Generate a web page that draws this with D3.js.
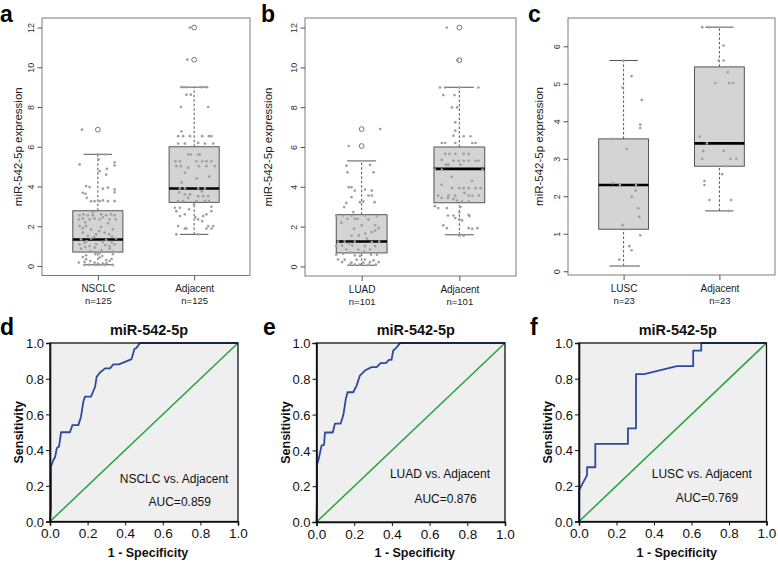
<!DOCTYPE html>
<html><head><meta charset="utf-8">
<script src="https://cdn.jsdelivr.net/npm/d3@7"></script>
<style>
body{margin:0;background:#fff}
svg{display:block}
text{font-family:"Liberation Sans",Arial,Helvetica,sans-serif}
</style>
</head><body>
<svg id="chart" width="778" height="565"></svg>
<script>
// ---------------- DATA ----------------
const yLabel = "miR-542-5p expression";
const yTicksAB = [0, 2, 4, 6, 8, 10, 12];
const yTicksC = [0, 1, 2, 3, 4, 5, 6];

// panel a
const catsA = ["NSCLC", "Adjacent"];
const nA = [125, 125];
const statsA = [[0.06, 0.70, 1.33, 2.78, 5.62], [1.59, 3.20, 3.90, 6.00, 9.00]];
const outA = [[6.86], [10.38, 12.0]];
const ptsA1 = [[6.86,-0.63],[5.61,0],[5.61,0.31],[5.11,-0.73],[5.22,0.67],[5.06,0.67],[5.36,0.03],[4.77,0.07],[4.89,0.36],[4.60,0.33],
[4.02,-0.47],[3.97,-0.33],[3.68,-0.6],[3.63,-0.49],[3.43,-0.44],[3.89,0.2],[3.94,0.4],[3.85,0.67],[3.71,0.67],
[3.26,-0.27],[3.26,-0.13],[3.26,0.07],[3.30,0.2],[3.26,0.4],[3.26,0.67],
[2.55,-0.73],[2.60,-0.57],[2.55,-0.4],[2.55,-0.2],[2.60,0.13],[2.55,0.33],[2.60,0.53],[2.55,0.67],
[2.34,-0.76],[2.38,-0.6],[2.34,-0.33],[2.38,-0.13],[2.34,0.07],[2.34,0.47],[2.34,0.71],
[2.01,-0.73],[2.01,-0.47],[1.84,-0.27],[1.96,0.13],[1.84,0.6],
[1.68,-0.6],[1.51,-0.4],[1.59,-0.07],[1.68,0.27],[1.48,0.57],
[1.34,-0.67],[1.38,-0.27],[1.31,0.33],[1.38,0.73],
[1.09,-0.73],[1.17,-0.53],[1.00,-0.33],[1.09,-0.07],[1.21,0.2],[1.00,0.47],[1.09,0.67],
[0.87,-0.67],[0.92,-0.13],[0.87,0.47],
[0.64,0.07],[0.50,0.17],[0.59,0.6],[0.54,-0.47],
[0.34,-0.47],[0.42,0.07],[0.30,0.33],
[0.17,-0.76],[0.20,-0.53],[0.17,-0.13],[0.12,0.2],[0.25,0.47],
[0.05,-0.53],[0.05,-0.33],[0.05,-0.07],[0.05,0.07],[0.05,0.27],[0.05,0.6],
[2.70,-0.2],[2.45,0.2],[2.20,-0.5],[2.15,0.4],[1.90,-0.6],[1.75,0.05],[1.60,0.45],[1.45,-0.15],[1.25,-0.45],[1.20,0.55],
[1.05,0.3],[0.95,-0.5],[0.80,0.15],[0.75,-0.3],[0.72,0.6],[0.60,-0.1],[0.45,-0.6],[0.35,0.55],[0.25,-0.3],[0.15,0.35]];
const ptsA2 = [[12.0,-0.17],[10.38,-0.27],
[9.0,-0.47],[9.0,-0.31],[9.0,0.29],[9.0,0.49],[8.62,-0.31],[8.62,-0.13],[8.0,-0.53],[8.0,0.56],
[6.78,-0.51],[6.53,-0.64],[6.53,-0.44],[6.53,-0.17],[6.53,0.32],[6.53,0.59],[6.53,0.69],
[6.16,-0.64],[6.16,-0.37],[6.19,0.16],[6.16,0.43],[6.16,0.76],
[5.61,-0.24],[5.61,-0.13],[5.61,0.16],[5.61,0.23],
[5.27,-0.75],[5.27,-0.57],[5.27,0.09],[5.27,0.32],[5.27,0.49],[5.27,0.69],
[5.02,-0.71],[5.02,-0.53],[4.94,-0.24],[5.02,0.19],[5.02,0.49],[5.02,0.83],[4.69,-0.37],
[3.90,-0.57],[3.90,-0.37],[3.90,0.16],[3.90,0.43],
[3.60,-0.37],[3.60,-0.17],[3.51,0.16],[3.51,0.36],[3.51,0.56],[3.43,-0.24],
[3.26,-0.64],[3.26,-0.44],[3.26,0.09],[3.26,0.43],[3.26,0.59],
[2.93,-0.77],[2.93,-0.57],[2.98,0.69],[2.76,-0.71],[2.76,0.69],
[2.51,-0.57],[2.60,-0.37],[2.51,0.36],[2.60,0.49],[2.34,0.16],[2.26,0.32],
[2.01,-0.64],[2.01,0.56],[2.01,0.76],[1.88,-0.37],[1.88,-0.31],[1.88,0.49],[1.88,0.69],
[1.59,-0.71],[1.59,0.16],
[4.40,0.1],[4.20,-0.5],[4.50,0.6],[3.75,0.3],[3.70,-0.6],[3.10,0.0],[2.85,-0.2],[2.45,0.05]];

// panel b
const catsB = ["LUAD", "Adjacent"];
const nB = [101, 101];
const statsB = [[0.06, 0.68, 1.25, 2.60, 5.30], [1.59, 3.20, 4.90, 6.00, 9.00]];
const outB = [[6.05, 6.90], [10.36, 12.0]];
const ptsB1 = [[6.90,0.73],[6.05,-0.51],
[5.06,-0.6],[4.73,-0.56],[5.10,0.33],[4.73,0.47],
[3.98,-0.51],[3.98,-0.4],[3.81,-0.27],[3.86,0.13],[3.81,0.4],[3.56,0.27],[3.56,0.4],
[2.98,-0.69],[3.19,-0.6],[3.48,-0.4],[3.23,-0.07],[3.26,0.07],[3.23,0.51],[2.73,-0.33],
[2.56,-1.0],[2.56,-0.73],[2.56,-0.4],[2.56,0.13],[2.53,0.6],
[2.39,-0.56],[2.39,-0.27],[2.39,-0.16],[2.36,0.27],
[2.06,0.0],[2.06,0.53],[1.92,0.67],[1.72,0.4],[1.80,0.53],[1.55,-0.4],[1.55,-0.11],
[1.25,-0.93],[1.25,-0.67],[1.25,-0.27],[1.22,0.4],[1.25,0.69],
[1.02,-1.0],[1.05,-0.77],[1.05,-0.37],[1.02,0.13],[1.02,0.53],
[0.85,-0.6],[0.85,-0.13],[0.85,0.33],
[0.59,-1.0],[0.64,-0.73],[0.55,-0.27],[0.52,-0.07],[0.59,0.37],[0.59,0.6],
[0.35,-0.93],[0.34,-0.67],[0.34,-0.2],[0.35,0.13],[0.30,0.47],
[0.22,-0.77],[0.19,-0.4],[0.19,0.07],[0.22,0.33],[0.22,0.67],
[0.09,-0.47],[0.09,-0.27],[0.09,-0.07],[0.09,0.27],[0.09,0.56],
[2.20,-0.8],[1.90,-0.3],[1.65,0.15],[1.40,0.2],[1.15,-0.5],[0.75,0.1],[0.70,-0.45]];
const ptsB2 = [[12.0,-0.49],[10.36,-0.08],
[8.99,-0.76],[8.99,-0.56],[8.99,0.0],[8.99,0.75],[8.61,-0.63],[8.61,-0.19],[7.99,-0.29],[7.99,-0.09],
[7.24,-0.16],[6.82,-0.16],[6.57,-0.23],[6.54,0.17],[6.54,0.44],
[6.20,-0.69],[6.20,-0.56],[6.20,-0.16],[6.20,0.51],[6.20,0.64],
[5.65,-0.56],[5.65,-0.39],[5.65,-0.16],[5.65,0.17],[5.65,0.37],
[5.35,-0.69],[5.31,-0.23],[5.31,-0.03],[5.31,0.17],[5.31,0.37],[5.31,0.64],[5.31,0.75],
[5.11,-0.53],[5.11,-0.43],[5.11,0.04],[4.86,-0.96],[4.86,-0.69],[4.86,0.91],
[3.93,-0.29],[3.93,0.0],[3.93,0.17],[3.93,0.37],[3.93,0.64],[3.93,0.84],
[3.56,-0.83],[3.56,-0.43],[3.56,-0.16],[3.56,0.37],[3.56,0.51],[3.56,0.77],
[3.44,-0.69],[3.44,-0.45],[3.39,-0.23],[3.31,-0.09],[3.26,0.11],[3.26,0.37],
[3.03,-0.96],[2.93,-0.83],[2.93,-0.49],[2.98,0.04],[2.73,0.0],
[2.56,-0.45],[2.56,-0.23],[2.59,0.37],[2.53,0.4],[2.43,-0.16],[2.36,0.0],[2.31,0.11],
[2.06,-0.63],[1.92,-0.49],[1.92,0.37],[1.89,0.51],[1.92,0.71],[1.55,0.0],[1.55,0.17],
[4.50,-0.3],[4.30,0.5],[4.10,-0.7],[3.70,0.2]];

// panel c
const catsC = ["LUSC", "Adjacent"];
const nC = [23, 23];
const statsC = [[0.14, 1.12, 2.30, 3.53, 5.62], [1.61, 2.80, 3.41, 5.45, 6.51]];
const outC = [[], []];
const ptsC1 = [[5.62,0.0],[5.20,0.32],[4.90,-0.04],[4.57,0.73],[3.91,0.67],[3.82,0.67],[3.26,0.12],[2.35,-0.44],[2.30,-0.15],
[2.15,0.49],[1.99,0.33],[1.68,0.59],[1.45,0.63],[1.23,-0.04],[0.96,0.67],[0.67,0.23],[0.56,0.32],[0.31,-0.17],
[0.14,0.0],[0.14,0.6],[3.53,-0.5],[1.12,0.3],[2.30,0.5]];
const ptsC2 = [[6.51,-0.69],[6.51,-0.43],[6.02,0.17],[5.62,-0.03],[5.62,0.17],[5.31,0.33],[5.02,-0.16],[5.02,0.4],[5.02,0.55],
[3.59,-0.79],[3.21,-0.65],[3.21,0.17],[3.00,-0.69],[3.00,0.44],[3.00,0.68],[2.59,0.11],[2.41,-0.6],[2.30,-0.6],
[1.90,-0.4],[1.90,0.47],[1.61,0.37],[3.41,-0.5],[2.80,0.3]];

// ROC panels
const rocTitle = "miR-542-5p";
const rocXLabel = "1 - Specificity";
const rocYLabel = "Sensitivity";
const rocTicks = [0, 0.2, 0.4, 0.6, 0.8, 1.0];
const rocComparisons = ["NSCLC vs. Adjacent", "LUAD vs. Adjacent", "LUSC vs. Adjacent"];
const aucValues = [0.859, 0.876, 0.769];
const rocD = [[0,0],[0.005,0.07],[0.005,0.307],[0.018,0.345],[0.027,0.36],[0.036,0.41],[0.048,0.42],[0.059,0.50],[0.106,0.50],
[0.119,0.54],[0.151,0.54],[0.165,0.587],[0.177,0.67],[0.186,0.70],[0.218,0.70],[0.24,0.755],[0.248,0.81],[0.266,0.835],
[0.293,0.858],[0.319,0.858],[0.337,0.88],[0.367,0.88],[0.434,0.91],[0.449,0.966],[0.461,0.974],[0.479,1.0],[1,1]];
const rocE = [[0,0],[0.002,0.085],[0.002,0.318],[0.01,0.345],[0.027,0.428],[0.04,0.43],[0.045,0.50],[0.086,0.50],[0.098,0.55],
[0.128,0.55],[0.142,0.596],[0.156,0.69],[0.165,0.725],[0.195,0.725],[0.213,0.762],[0.23,0.818],[0.257,0.846],[0.292,0.865],
[0.319,0.865],[0.34,0.888],[0.368,0.888],[0.384,0.906],[0.398,0.906],[0.407,0.958],[0.42,0.97],[0.439,0.994],[0.443,1.0],[1,1]];
const rocF = [[0,0],[0,0.174],[0.043,0.26],[0.043,0.304],[0.087,0.304],[0.087,0.435],[0.261,0.435],[0.261,0.522],[0.304,0.522],
[0.304,0.826],[0.348,0.826],[0.522,0.870],[0.609,0.870],[0.609,0.957],[0.652,0.957],[0.652,1.0],[1,1]];

// ---------------- DRAWING ----------------
const svg = d3.select("#chart");
svg.append("rect").attr("width", 778).attr("height", 565).attr("fill", "#fff");
const FONT = "'Liberation Sans',Arial,sans-serif";

function boxPanel(o) {
  const g = svg.append("g");
  const x = d3.scalePoint().domain(o.cats).range([o.l, o.r]).padding(0.58);
  const y = d3.scaleLinear().domain(o.yd).range([o.b, o.t]);
  const hw = x.step() * 0.26;

  g.append("rect").attr("x", o.l).attr("y", o.t).attr("width", o.r - o.l).attr("height", o.b - o.t)
    .attr("fill", "none").attr("stroke", "#7c7c7c").attr("stroke-width", 1);

  o.cats.forEach((c, i) => {
    const cx = x(c), s = o.stats[i];
    const wl = (a, b) => g.append("line").attr("x1", cx).attr("x2", cx).attr("y1", y(a)).attr("y2", y(b))
      .attr("stroke", "#555").attr("stroke-width", 1).attr("stroke-dasharray", "2.5,2");
    wl(s[0], s[1]); wl(s[3], s[4]);
    [s[0], s[4]].forEach(v => g.append("line").attr("x1", cx - hw * 0.57).attr("x2", cx + hw * 0.57)
      .attr("y1", y(v)).attr("y2", y(v)).attr("stroke", "#555").attr("stroke-width", 1));
    g.append("rect").attr("x", cx - hw).attr("y", y(s[3])).attr("width", 2 * hw).attr("height", y(s[1]) - y(s[3]))
      .attr("fill", "#d4d4d4").attr("stroke", "#555").attr("stroke-width", 1);
    g.append("line").attr("x1", cx - hw).attr("x2", cx + hw).attr("y1", y(s[2])).attr("y2", y(s[2]))
      .attr("stroke", "#000").attr("stroke-width", 2.6);
    g.selectAll(null).data(o.out[i]).enter().append("circle")
      .attr("cx", cx).attr("cy", d => y(d)).attr("r", 2.4)
      .attr("fill", "none").attr("stroke", "#666").attr("stroke-width", 0.9);
    g.selectAll(null).data(o.pts[i]).enter().append("circle")
      .attr("cx", d => cx + d[1] * hw).attr("cy", d => y(d[0])).attr("r", 1.35)
      .attr("fill", "#a0a0a0");
  });

  const ya = g.append("g").attr("transform", `translate(${o.l},0)`)
    .call(d3.axisLeft(y).tickValues(o.ticks).tickSize(4.5).tickFormat(d3.format("d")));
  ya.select(".domain").remove();
  ya.selectAll(".tick line").attr("stroke", "#555");
  ya.selectAll(".tick text").attr("transform", "rotate(-90)").attr("x", 0).attr("y", -8.5).attr("dy", 0)
    .attr("text-anchor", "middle").attr("font-size", 9).attr("fill", "#333").style("font-family", FONT);

  const xa = g.append("g").attr("transform", `translate(0,${o.b})`)
    .call(d3.axisBottom(x).tickSize(5));
  xa.select(".domain").remove();
  xa.selectAll(".tick line").attr("stroke", "#555");
  xa.selectAll(".tick text").remove();
  xa.selectAll(".tick").append("text").attr("y", 16.5).attr("text-anchor", "middle")
    .attr("font-size", 10).attr("fill", "#222").style("font-family", FONT)
    .text(d => d);
  xa.selectAll(".tick").append("text").attr("y", 28.5).attr("text-anchor", "middle")
    .attr("font-size", 9.5).attr("fill", "#222").style("font-family", FONT)
    .text((d, i) => "n=" + o.n[i]);

  g.append("text").attr("transform", `translate(${o.yl},${(o.t + o.b) / 2}) rotate(-90)`)
    .attr("text-anchor", "middle").attr("font-size", 11.5).attr("fill", "#222").text(yLabel);
  g.append("text").attr("x", o.lx).attr("y", o.ly).attr("font-size", 23).attr("font-weight", "bold")
    .attr("fill", "#000").text(o.letter);
}

boxPanel({letter: "a", lx: 0, ly: 21.5, l: 42, r: 250, t: 18, b: 275.5, yl: 21.5, yd: [-0.48, 12.48],
  ticks: yTicksAB, cats: catsA, n: nA, stats: statsA, out: outA, pts: [ptsA1, ptsA2]});
boxPanel({letter: "b", lx: 261, ly: 21.5, l: 305, r: 516, t: 18, b: 276, yl: 272, yd: [-0.48, 12.48],
  ticks: yTicksAB, cats: catsB, n: nB, stats: statsB, out: outB, pts: [ptsB1, ptsB2]});
boxPanel({letter: "c", lx: 528, ly: 21.5, l: 568, r: 775, t: 18, b: 275, yl: 543, yd: [-0.1, 6.754],
  ticks: yTicksC, cats: catsC, n: nC, stats: statsC, out: outC, pts: [ptsC1, ptsC2]});

function rocPanel(o) {
  const g = svg.append("g");
  const x = d3.scaleLinear().domain([0, 1]).range([o.l, o.r]);
  const y = d3.scaleLinear().domain([0, 1]).range([o.b, o.t]);
  g.append("rect").attr("x", o.l).attr("y", o.t).attr("width", o.r - o.l).attr("height", o.b - o.t)
    .attr("fill", "#efefef");
  g.append("line").attr("x1", x(0)).attr("y1", y(0)).attr("x2", x(1)).attr("y2", y(1))
    .attr("stroke", "#21a53c").attr("stroke-width", 1.5);
  g.append("path").datum(o.data).attr("fill", "none").attr("stroke", "#2d4aa0").attr("stroke-width", 1.8)
    .attr("stroke-linejoin", "round")
    .attr("d", d3.line().x(d => x(d[0])).y(d => y(d[1])));
  g.append("rect").attr("x", o.l).attr("y", o.t).attr("width", o.r - o.l).attr("height", o.b - o.t)
    .attr("fill", "none").attr("stroke", "#111").attr("stroke-width", 1.3);

  const fmt = d3.format(".1f");
  const ya = g.append("g").attr("transform", `translate(${o.l},0)`)
    .call(d3.axisLeft(y).tickValues(rocTicks).tickSize(4).tickPadding(2).tickFormat(fmt));
  ya.select(".domain").attr("stroke", "#111").attr("stroke-width", 1.6);
  ya.selectAll(".tick line").attr("stroke", "#111");
  ya.selectAll(".tick text").attr("font-size", 13).attr("fill", "#111").attr("dy", "0.36em")
    .style("font-family", FONT);
  const xa = g.append("g").attr("transform", `translate(0,${o.b})`)
    .call(d3.axisBottom(x).tickValues(rocTicks).tickSize(4).tickPadding(3).tickFormat(fmt));
  xa.select(".domain").attr("stroke", "#111").attr("stroke-width", 1.6);
  xa.selectAll(".tick line").attr("stroke", "#111");
  xa.selectAll(".tick text").attr("font-size", 13.5).attr("fill", "#111")
    .style("font-family", FONT);

  const cx = (o.l + o.r) / 2;
  g.append("text").attr("x", cx + 5).attr("y", 334.5).attr("text-anchor", "middle")
    .attr("font-size", 14.5).attr("font-weight", "bold").attr("fill", "#111").text(rocTitle);
  g.append("text").attr("x", cx + 4).attr("y", 556.5).attr("text-anchor", "middle")
    .attr("font-size", 12.5).attr("font-weight", "bold").attr("fill", "#111").text(rocXLabel);
  g.append("text").attr("transform", `translate(${o.l - 27},${(o.t + o.b) / 2}) rotate(-90)`)
    .attr("text-anchor", "middle").attr("font-size", 12.5).attr("font-weight", "bold").attr("fill", "#111").text(rocYLabel);
  g.append("text").attr("x", x(o.cmp[0])).attr("y", y(o.cmp[1])).attr("text-anchor", "middle")
    .attr("font-size", 12).attr("fill", "#111").text(rocComparisons[o.i]);
  g.append("text").attr("x", x(o.auc[0])).attr("y", y(o.auc[1])).attr("text-anchor", "middle")
    .attr("font-size", 12).attr("fill", "#111").text("AUC=" + d3.format(".3f")(aucValues[o.i]));
  g.append("text").attr("x", o.lx).attr("y", 335).attr("font-size", 23).attr("font-weight", "bold")
    .attr("fill", "#000").text(o.letter);
}

rocPanel({i: 0, letter: "d", lx: 0, l: 50, r: 238, t: 343, b: 521.5, data: rocD, cmp: [0.66, 0.216], auc: [0.69, 0.089]});
rocPanel({i: 1, letter: "e", lx: 263, l: 316.5, r: 505, t: 343, b: 522, data: rocE, cmp: [0.655, 0.245], auc: [0.685, 0.106]});
rocPanel({i: 2, letter: "f", lx: 530, l: 579, r: 766.5, t: 343, b: 521.5, data: rocF, cmp: [0.655, 0.244], auc: [0.682, 0.109]});
</script>
</body></html>
